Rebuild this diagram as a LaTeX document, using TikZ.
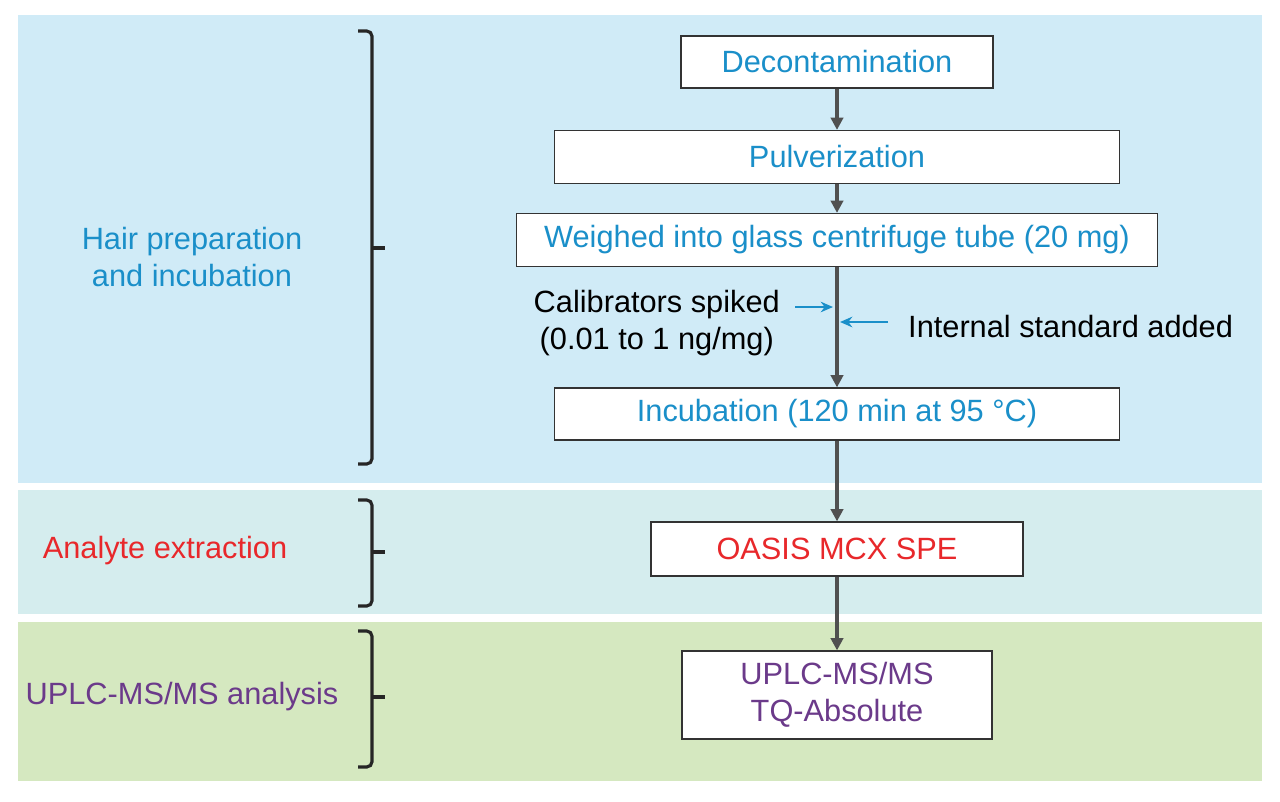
\documentclass[tikz,border=0pt]{standalone}
\usepackage{fontspec}
\setmainfont{Liberation Sans}
\usetikzlibrary{arrows.meta,positioning}
\definecolor{bandblue}{HTML}{D0EBF7}
\definecolor{bandteal}{HTML}{D5EDEE}
\definecolor{bandgreen}{HTML}{D5E8C0}
\definecolor{txtblue}{HTML}{1A8FC9}
\definecolor{txtred}{HTML}{E8282B}
\definecolor{txtpurple}{HTML}{6B3A8A}
\definecolor{flowgray}{HTML}{505050}
\tikzset{
  procbox/.style={draw=black!80, fill=white, line width=0.7pt, inner sep=0pt, font=\fontsize{17.5}{21}\selectfont, align=center},
  flow/.style={-{Triangle[length=7pt,width=7pt]}, line width=2pt, flowgray},
  side/.style={-{Stealth[length=7pt,width=6pt]}, line width=1.6pt, txtblue},
  bracket/.style={line width=1.8pt, black!85, rounded corners=3pt},
  lab/.style={font=\fontsize{17.5}{21}\selectfont, align=center}
}
\begin{document}
\begin{tikzpicture}[x=0.02cm,y=-0.02cm]
    \useasboundingbox (0,0) rectangle (1280,801);
    % Bands
    \fill[bandblue] (18,15) rectangle (1262,483);
    \fill[bandteal] (18,490) rectangle (1262,614);
    \fill[bandgreen] (18,622) rectangle (1262,781);

    % Steps
    \node[procbox, text=txtblue, minimum width=6.24cm, minimum height=1.04cm] (decon) at (837,62) {Decontamination};
    \node[procbox, text=txtblue, minimum width=11.3cm, minimum height=1.06cm] (pulv) at (837,157) {Pulverization};
    \node[procbox, text=txtblue, minimum width=12.82cm, minimum height=1.06cm] (weigh) at (837,240) {Weighed into glass centrifuge tube (20 mg)};
    \node[procbox, text=txtblue, minimum width=11.3cm, minimum height=1.04cm] (incub) at (837,414) {Incubation (120 min at 95 °C)};
    \node[procbox, text=txtred, minimum width=7.44cm, minimum height=1.08cm] (spe) at (837,549) {OASIS MCX SPE};
    \node[procbox, text=txtpurple, minimum width=6.2cm, minimum height=1.76cm] (ms) at (837,695) {UPLC-MS/MS\\TQ-Absolute};

    % Flow
    \draw[flow] (decon) -- (pulv);
    \draw[flow] (pulv) -- (weigh);
    \draw[flow] (weigh) -- (incub);
    \draw[flow] (incub) -- (spe);
    \draw[flow] (spe) -- (ms);

    % Additions
    \coordinate (calin) at (833,307);
    \coordinate (isin) at (840,322);
    \coordinate (calout) at (795,307);
    \coordinate (isout) at (888,322);
    \node[lab, anchor=east] (cal) at (786,323) {Calibrators spiked\\(0.01 to 1 ng/mg)};
    \node[lab, anchor=west] (is) at (902,327) {Internal standard added};
    \draw[side] (calout) -- (calin);
    \draw[side] (isout) -- (isin);

    % Brackets
    \draw[bracket] (358,31) -- (372,31) -- (372,464) -- (358,464);
    \draw[line width=1.8pt, black!85] (372,248) -- (385,248);
    \draw[bracket] (358,500) -- (372,500) -- (372,606) -- (358,606);
    \draw[line width=1.8pt, black!85] (372,552) -- (385,552);
    \draw[bracket] (358,631) -- (372,631) -- (372,767) -- (358,767);
    \draw[line width=1.8pt, black!85] (372,697) -- (385,697);

    % Phase labels
    \node[lab, text=txtblue] (hair) at (192,257) {Hair preparation\\and incubation};
    \node[lab, text=txtred] (extr) at (165,551) {Analyte extraction};
    \node[lab, text=txtpurple] (anal) at (182,697) {UPLC-MS/MS analysis};
\end{tikzpicture}
\end{document}
